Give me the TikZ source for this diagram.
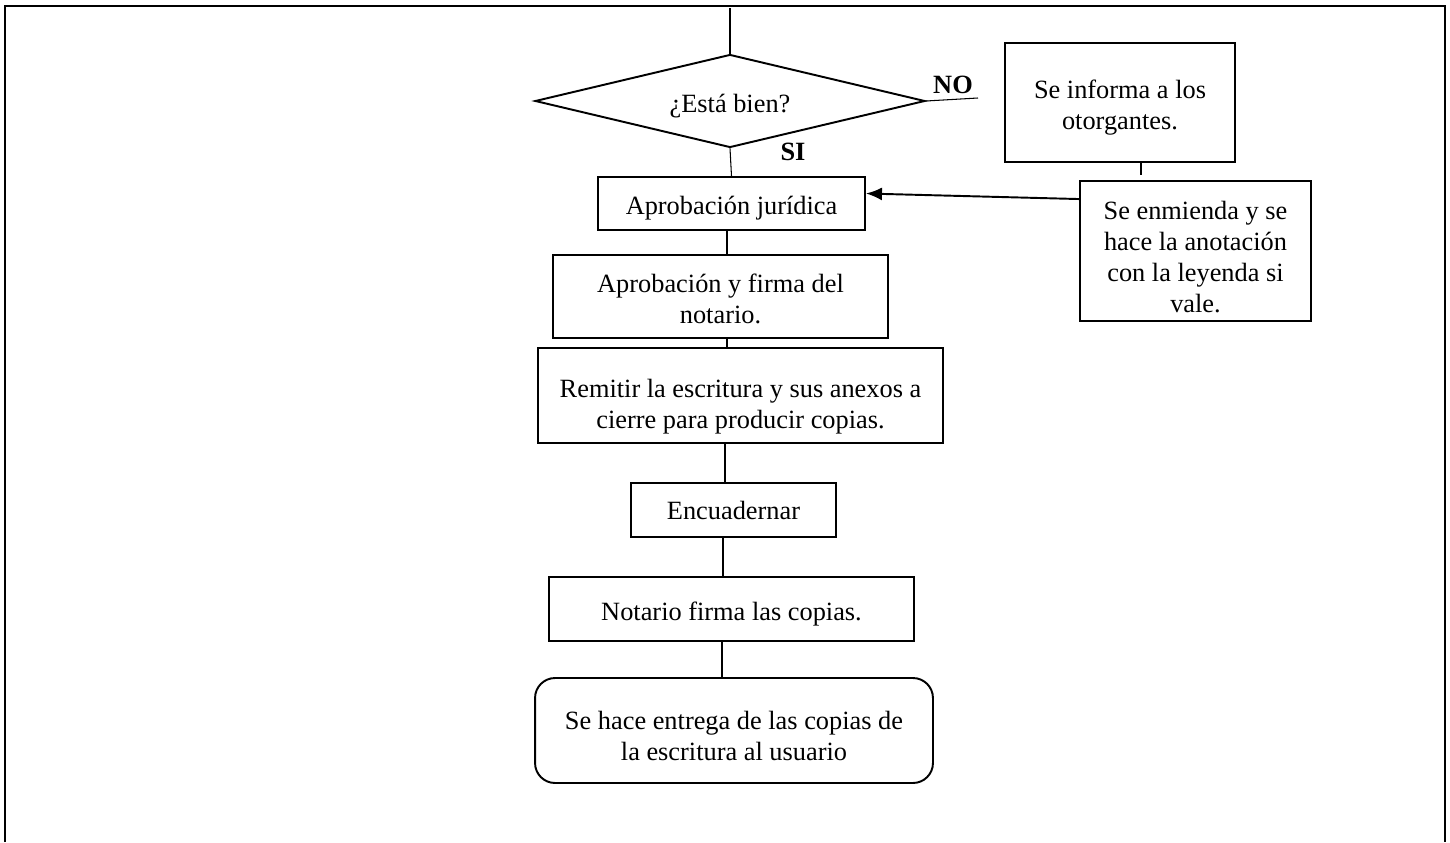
\documentclass[tikz,border=0pt]{standalone}
\usepackage{fontspec}
\setmainfont{Liberation Serif}
\usetikzlibrary{arrows.meta,shapes.geometric}
\newcommand{\lift}[1]{\rule{0pt}{#1}}
\begin{document}
\begin{tikzpicture}[x=0.02cm,y=-0.02cm,
    box/.style={draw,line width=1.1pt,align=center,inner sep=0pt,
      font=\fontsize{15}{17.6}\selectfont},
    tag/.style={font=\fontsize{15}{17}\selectfont\bfseries,inner sep=0pt},
    link/.style={draw,line width=0.6pt}]
  \useasboundingbox (0,0) rectangle (1450,842);
  \draw[line width=1.4pt] (5,842) -- (5,6) -- (1445,6) -- (1445,842);
  \node[box,diamond,aspect=4.19,minimum width=7.8cm,minimum height=1.86cm] (check) at (730,101) {\lift{0.57cm}¿Está bien?};
  \node[box,minimum width=5.34cm,minimum height=1.06cm] (legal) at (731.5,203.5) {\lift{0.57cm}Aprobación jurídica};
  \node[box,minimum width=6.7cm,minimum height=1.66cm] (sign) at (720.5,296.5) {\lift{0.45cm}Aprobación y firma del\\notario.};
  \node[box,minimum width=8.1cm,minimum height=1.9cm] (send) at (740.5,395.5) {\lift{0.8cm}Remitir la escritura y sus anexos a\\cierre para producir copias.};
  \node[box,minimum width=4.1cm,minimum height=1.08cm] (bind) at (733.5,510) {Encuadernar};
  \node[box,minimum width=7.3cm,minimum height=1.28cm] (copies) at (731.5,609) {\lift{0.57cm}Notario firma las copias.};
  \node[box,rounded corners=0.4cm,minimum width=7.96cm,minimum height=2.1cm] (deliver) at (734,730.5) {\lift{0.57cm}Se hace entrega de las copias de\\la escritura al usuario};
  \node[box,minimum width=4.6cm,minimum height=2.38cm] (inform) at (1120,102.5) {\lift{0.57cm}Se informa a los\\otorgantes.};
  \node[box,minimum width=4.62cm,minimum height=2.8cm] (amend) at (1195.5,251) {\lift{0.6cm}Se enmienda y se\\hace la anotación\\con la leyenda si\\vale.};
  \node[tag] (no) at (953,85) {NO};
  \node[tag] (si) at (793,152) {SI};
  \coordinate (axis) at (727,8);
  \coordinate (noend) at (978,98);
  \coordinate (tick) at (1141,175);
  \draw[link] (check.north |- axis) -- (check.north);
  \draw[link] (check.east) -- (noend);
  \draw[link] (check.south) -- (legal.north);
  \draw[link] (legal.south -| axis) -- (sign.north -| axis);
  \draw[link] (sign.south -| axis) -- (send.north -| axis);
  \draw[link] ([xshift=-0.04cm]send.south -| axis) -- ([xshift=-0.04cm]bind.north -| axis);
  \draw[link] ([xshift=-0.08cm]bind.south -| axis) -- ([xshift=-0.08cm]copies.north -| axis);
  \draw[link] ([xshift=-0.1cm]copies.south -| axis) -- ([xshift=-0.1cm]deliver.north -| axis);
  \draw[link] (inform.south -| tick) -- (tick);
  \draw[link,line width=1.1pt,-{Latex[length=0.32cm,width=0.26cm]}] ([yshift=-0.38cm]amend.north west) -- ([yshift=0.2cm]legal.east);
\end{tikzpicture}
\end{document}
